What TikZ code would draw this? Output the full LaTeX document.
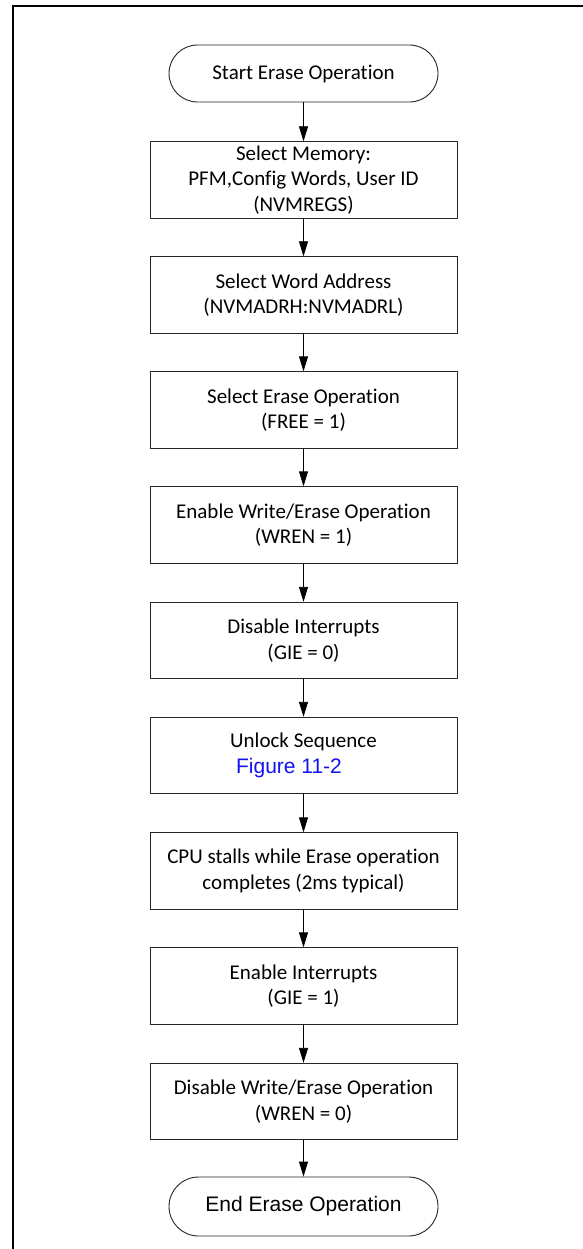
\documentclass[tikz,border=0pt]{standalone}
\usepackage{fontspec}
\setmainfont{Carlito}[Ligatures={NoCommon,NoContextual}]
\newfontfamily\arialfont{Liberation Sans}
\usetikzlibrary{arrows.meta}
\definecolor{linkblue}{RGB}{20,20,240}
\begin{document}
\begin{tikzpicture}[x=1pt,y=-1pt,
  every node/.style={font=\fontsize{21}{25.5}\selectfont},
  stepbox/.style={draw=black!85,line width=0.9pt,minimum width=307pt,minimum height=76.5pt,align=center,inner sep=0pt},
  term/.style={draw=black!85,line width=0.9pt,minimum width=269pt,minimum height=57pt,rounded corners=28.5pt,align=center,inner sep=0pt},
  flow/.style={line width=0.9pt,-{Triangle[length=15pt,width=9pt]}}]
\useasboundingbox (0,0) rectangle (583,1249);
\fill[white] (0,0) rectangle (583,1249);
\draw[line width=2pt] (583,6.5) -- (13,6.5) -- (13,1249);
\node[term] (start) at (303.5,73.5) {Start Erase Operation};
\node[stepbox] (b1) at (303.5,180) {Select Memory:\\PFM,Config Words, User ID\\(NVMREGS)};
\node[stepbox] (b2) at (303.5,295) {Select Word Address\\(NVMADRH:NVMADRL)};
\node[stepbox] (b3) at (303.5,410) {Select Erase Operation\\(FREE = 1)};
\node[stepbox] (b4) at (303.5,525) {Enable Write/Erase Operation\\(WREN = 1)};
\node[stepbox] (b5) at (303.5,640.5) {Disable Interrupts\\(GIE = 0)};
\node[stepbox] (b6) at (303.5,755.5) {Unlock Sequence\\\hspace*{-29pt}{\arialfont\color{linkblue}Figure 11-2}};
\node[stepbox] (b7) at (303.5,871) {CPU stalls while Erase operation\\completes (2ms typical)};
\node[stepbox] (b8) at (303.5,986) {Enable Interrupts\\(GIE = 1)};
\node[stepbox] (b9) at (303.5,1101.5) {Disable Write/Erase Operation\\(WREN = 0)};
\node[term,minimum height=59pt,rounded corners=29.5pt] (end) at (303.5,1206.5) {\arialfont End Erase Operation};
\foreach \a/\b in {start/b1,b1/b2,b2/b3,b3/b4,b4/b5,b5/b6,b6/b7,b7/b8,b8/b9,b9/end}
  \draw[flow] (\a) -- (\b);
\end{tikzpicture}
\end{document}
